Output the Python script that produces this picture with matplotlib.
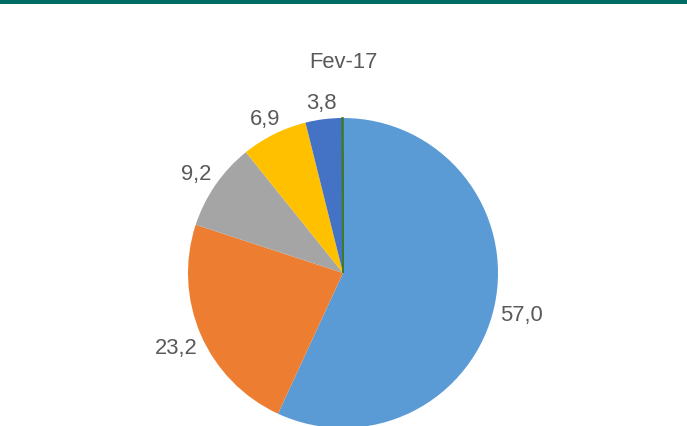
import matplotlib
matplotlib.use("Agg")
import matplotlib.pyplot as plt
import numpy as np
from matplotlib.patches import Rectangle

plt.rcParams['font.family'] = ['Liberation Sans', 'DejaVu Sans']

# data (clockwise from 12 o'clock)
values = [57.0, 23.2, 9.2, 6.9, 3.8, 0.1]
labels = ['57,0', '23,2', '9,2', '6,9', '3,8', '']
colors = ['#5B9BD5', '#ED7D31', '#A5A5A5', '#FFC000', '#4472C4', '#70AD47']
title = 'Fev-17'

W, H = 687, 426
fig = plt.figure(figsize=(W / 100, H / 100), dpi=100)
ax = fig.add_axes([0, 0, 1, 1])

cx, cy, r = 343, H - 273, 155
wedges, _ = ax.pie(values, colors=colors, startangle=90, counterclock=False,
                   center=(cx, cy), radius=r, wedgeprops=dict(linewidth=0))
wedges[-1].set_edgecolor('#3E7A2A')
wedges[-1].set_linewidth(1.2)

# label distances (Excel "best fit" outside end)
dists = [1.18, 1.17, 1.15, 1.13, 1.12, 1.1]
for w, lab, d in zip(wedges, labels, dists):
    if not lab:
        continue
    ang = np.deg2rad((w.theta1 + w.theta2) / 2)
    ax.text(cx + d * r * np.cos(ang), cy + d * r * np.sin(ang) - 3, lab,
            ha='center', va='center', fontsize=15.8, color='#595959')

ax.text(cx, H - 63, title, ha='center', va='center', fontsize=15.8, color='#595959')

ax.set_xlim(0, W)
ax.set_ylim(0, H)
ax.set_aspect('auto')
ax.axis('off')

# teal band on top
fig.add_artist(Rectangle((0, 1 - 4 / H), 1, 4 / H, transform=fig.transFigure,
                         color='#006B63', lw=0))

fig.savefig('out.png', dpi=100)
